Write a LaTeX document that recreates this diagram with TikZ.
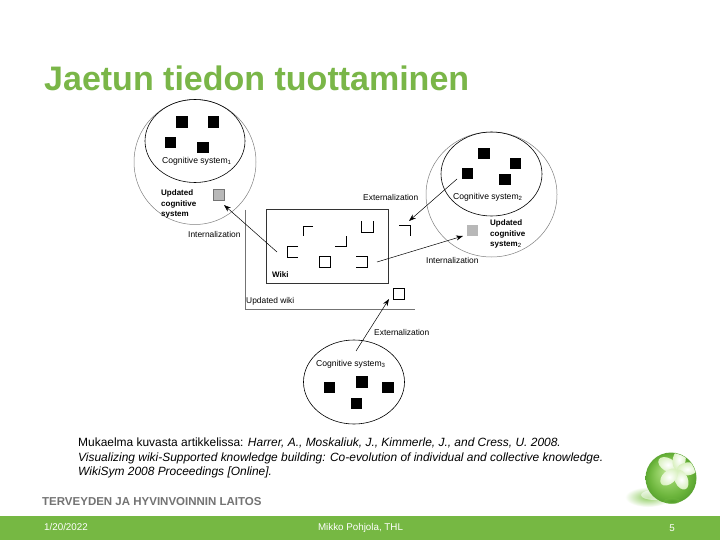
\documentclass[tikz,border=0pt]{standalone}
\usepackage{fontspec}
\setmainfont{Liberation Sans}
\usetikzlibrary{shapes.geometric,arrows.meta}
\definecolor{thlgreen}{HTML}{76B843}
\definecolor{titlegreen}{HTML}{7AB648}
\definecolor{ballA}{HTML}{B5E08A}
\definecolor{ballB}{HTML}{8CCB5C}
\definecolor{ballC}{HTML}{6CB53C}
\definecolor{ballD}{HTML}{4F9A2A}
\definecolor{petal}{HTML}{D8F0BE}
\pgfdeclareradialshading{ballshade}{\pgfpoint{-0.2cm}{0.25cm}}{
  color(0cm)=(ballA);
  color(0.4cm)=(ballB);
  color(0.7cm)=(ballC);
  color(1cm)=(ballD)}
\tikzset{
  inner/.style={ellipse,draw=black,line width=0.6pt,inner sep=0pt},
  outer/.style={ellipse,draw=black!50,line width=0.5pt,inner sep=0pt},
  bsq/.style={fill=black,draw=none,minimum size=11.5pt,inner sep=0pt},
  gsq/.style={fill=black!28,draw=black!55,line width=0.4pt,minimum size=11pt,inner sep=0pt},
  wsq/.style={fill=white,draw=black,line width=0.6pt,minimum size=11pt,inner sep=0pt},
  frag/.style={draw=black,line width=0.6pt},
  lab/.style={font=\fontsize{8.4}{9}\selectfont,inner sep=0pt,align=left,anchor=west},
  clab/.style={lab,font=\fontsize{8.6}{9}\selectfont},
  blab/.style={lab,font=\fontsize{8}{10.4}\selectfont\bfseries},
  conn/.style={draw=black,line width=0.5pt,-{Stealth[length=7pt,width=5pt]}},
  foot/.style={font=\fontsize{9.8}{11}\selectfont,text=white,inner sep=0pt}
}
\begin{document}
\begin{tikzpicture}[x=1pt,y=-1pt]
\useasboundingbox (0,0) rectangle (720,540);
\fill[white] (0,0) rectangle (720,540);
\node[anchor=west,inner sep=0pt,text=titlegreen,font=\fontsize{34}{38}\selectfont\bfseries] (title) at (44,78) {Jaetun tiedon tuottaminen};

% ellipses
\node[outer,minimum width=122pt,minimum height=125pt] (o1) at (195,162) {};
\node[inner,minimum width=100pt,minimum height=83pt] (c1) at (195,141) {};
\node[outer,minimum width=131pt,minimum height=125pt] (o2) at (491.5,194.5) {};
\node[inner,minimum width=101pt,minimum height=84pt] (c2) at (491.5,174) {};
\node[inner,minimum width=101pt,minimum height=84pt] (c3) at (354,382) {};

% wiki
\node[draw=black!80,line width=1pt,minimum width=122pt,minimum height=73pt,inner sep=0pt] (wiki) at (327,246.5) {};
\coordinate (uwa) at (245,210);
\coordinate (uwb) at (245,309);
\coordinate (uwc) at (415,309);
\draw[draw=black!55,line width=0.6pt] (uwa) -- (uwb) -- (uwc);

% squares
\foreach \n/\x/\y in {a1/182/122,a2/213.5/122,a3/170.5/142.5,a4/203/147.5,
  b1/484/153.5,b2/515.5/163.5,b3/467.5/173.5,b4/505/179.5,
  d1/329.5/387.5,d2/362/382,d3/388/387.5,d4/356.5/403.5}
  \node[bsq] (\n) at (\x,\y) {};
\node[gsq] (g1) at (218.5,194.5) {};
\node[gsq,draw=none] (g2) at (472.5,230.5) {};
\node[wsq] (w1) at (325,262) {};
\node[wsq] (w2) at (399,293.5) {};

% fragments
\coordinate (f1a) at (313,226); \coordinate (f1b) at (303,226); \coordinate (f1c) at (303,236);
\draw[frag] (f1a) -- (f1b) -- (f1c);
\coordinate (f2a) at (335,246); \coordinate (f2b) at (346,246); \coordinate (f2c) at (346,236);
\draw[frag] (f2a) -- (f2b) -- (f2c);
\coordinate (f3a) at (298,246); \coordinate (f3b) at (287,246); \coordinate (f3c) at (287,257); \coordinate (f3d) at (298,257);
\draw[frag] (f3a) -- (f3b) -- (f3c) -- (f3d);
\coordinate (f4a) at (361,221); \coordinate (f4b) at (361,232); \coordinate (f4c) at (373,232); \coordinate (f4d) at (373,221);
\draw[frag] (f4a) -- (f4b) -- (f4c) -- (f4d);
\coordinate (f5a) at (399,225); \coordinate (f5b) at (410,225); \coordinate (f5c) at (410,236);
\draw[frag] (f5a) -- (f5b) -- (f5c);
\coordinate (f6a) at (356,256); \coordinate (f6b) at (367,256); \coordinate (f6c) at (367,267); \coordinate (f6d) at (356,267);
\draw[frag] (f6a) -- (f6b) -- (f6c) -- (f6d);

% arrows
\coordinate (s1) at (277,252); \coordinate (e1) at (224,205);
\draw[conn] (s1) -- (e1);
\coordinate (s2) at (457,179); \coordinate (e2) at (409,221);
\draw[conn] (s2) -- (e2);
\coordinate (s3) at (377,262); \coordinate (e3) at (463,236);
\draw[conn] (s3) -- (e3);
\coordinate (s4) at (356,351); \coordinate (e4) at (389,299);
\draw[conn] (s4) -- (e4);

% labels
\node[clab] (l1) at (162,161) {Cognitive system$_{\mathrm{1}}$};
\node[blab] (l2) at (161,204) {Updated\\cognitive\\system};
\node[lab] (l3) at (188,234) {Internalization};
\node[lab,font=\fontsize{8}{8}\selectfont\bfseries] (l4) at (272,275) {Wiki};
\node[lab] (l5) at (246,301) {Updated wiki};
\node[lab] (l6) at (363,197) {Externalization};
\node[clab] (l7) at (453,197) {Cognitive system$_{\mathrm{2}}$};
\node[blab] (l8) at (490,234) {Updated\\cognitive\\system$_{\mathrm{2}}$};
\node[lab] (l9) at (426,260) {Internalization};
\node[lab] (l10) at (374,332) {Externalization};
\node[clab] (l11) at (316,364) {Cognitive system$_{\mathrm{3}}$};

% citation
\node[anchor=north west,inner sep=0pt,align=left,font=\fontsize{11.95}{14.5}\selectfont] (cite) at (78,438)
 {Mukaelma kuvasta artikkelissa: \textit{Harrer, A., Moskaliuk, J., Kimmerle, J., and Cress, U. 2008.}\\
  \textit{Visualizing wiki-Supported knowledge building: Co-evolution of individual and collective knowledge.}\\
  \textit{WikiSym 2008 Proceedings [Online].}};

\node[anchor=west,inner sep=0pt,text=black!55,font=\fontsize{11.5}{12}\selectfont\bfseries] (thl) at (42,501.5) {TERVEYDEN JA HYVINVOINNIN LAITOS};

% footer
\fill[thlgreen] (0,516) rectangle (720,540);
\node[foot,anchor=west] (date) at (44,527) {1/20/2022};
\node[foot] (auth) at (360.5,528) {Mikko Pohjola, THL};
\node[foot] (num) at (672,528) {5};

% ball
\shade[inner color=ballB,outer color=white] (648,497) ellipse (23 and 10);
\fill[white,opacity=0.55] (654,495) ellipse (13 and 5);
\shade[shading=ballshade] (671,478) circle (25.5);
\shade[inner color=ballD,outer color=ballC,opacity=0.6] (672,501) ellipse (8 and 3);
\begin{scope}
\clip (671,478) circle (25);
\foreach \r in {150,78,6,-66,-138}{
  \shade[rotate around={\r:(677,470)},inner color=white,outer color=petal] (687.5,470) ellipse (10.5 and 6.5);
}
\end{scope}
\end{tikzpicture}
\end{document}
